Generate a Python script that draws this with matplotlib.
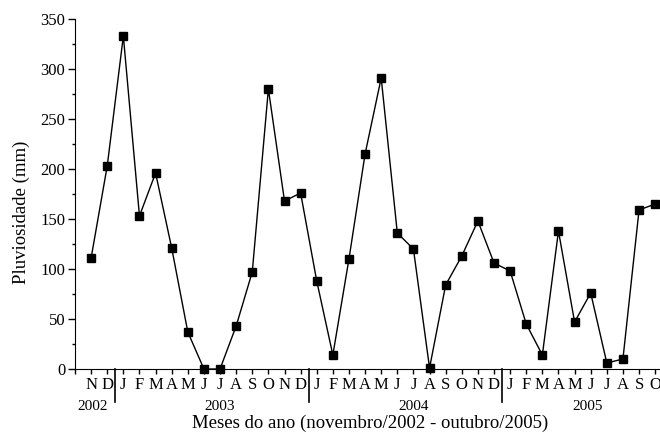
import numpy as np
import matplotlib
matplotlib.use("Agg")
import matplotlib.pyplot as plt
from matplotlib.ticker import MultipleLocator

plt.rcParams['font.family'] = ['Liberation Serif', 'DejaVu Serif']

# Pluviosidade mensal (mm), novembro/2002 a outubro/2005
meses = ['N', 'D',
         'J', 'F', 'M', 'A', 'M', 'J', 'J', 'A', 'S', 'O', 'N', 'D',
         'J', 'F', 'M', 'A', 'M', 'J', 'J', 'A', 'S', 'O', 'N', 'D',
         'J', 'F', 'M', 'A', 'M', 'J', 'J', 'A', 'S', 'O']
chuva = [111, 203,
         333, 153, 196, 121, 37, 0, 0, 43, 97, 280, 168, 176,
         88, 14, 110, 215, 291, 136, 120, 1, 84, 113, 148, 106,
         98, 45, 14, 138, 47, 76, 6, 10, 159, 165]
anos = ['2002', '2003', '2004', '2005']
anos_pos = [0.1, 8.0, 20.0, 30.8]
divisoes = [1.5, 13.5, 25.5]

x = np.arange(len(chuva))

fig = plt.figure(figsize=(6.6, 4.37), dpi=100)
ax = fig.add_axes([75/660, 1 - 369/437, 585/660, 350/437])

ax.plot(x, chuva, color='black', lw=1.0, marker='s', markersize=6.2,
        markerfacecolor='black', markeredgecolor='black', clip_on=False, zorder=3)

ax.set_xlim(-1, 35.3)
ax.set_ylim(0, 350)
ax.spines['top'].set_visible(False)
ax.spines['right'].set_visible(False)

ax.set_xticks(np.arange(-1, 36))
ax.set_xticklabels([''] + meses)
ax.yaxis.set_major_locator(MultipleLocator(50))
ax.yaxis.set_minor_locator(MultipleLocator(25))
ax.tick_params(axis='x', direction='out', length=3.5, width=1, pad=2.5, labelsize=12)
ax.tick_params(axis='y', which='major', direction='out', length=5, width=1, pad=2, labelsize=12)
ax.tick_params(axis='y', which='minor', direction='out', length=2.5, width=1)

trans = ax.get_xaxis_transform()
for d in divisoes:
    ax.plot([d, d], [0, -33/350], color='black', lw=1.2, transform=trans, clip_on=False)
for a, p in zip(anos, anos_pos):
    ax.text(p, -37/350, a, transform=trans, ha='center', va='center', fontsize=11)

ax.set_xlabel('Meses do ano (novembro/2002 - outubro/2005)', fontsize=13.5)
ax.set_ylabel('Pluviosidade (mm)', fontsize=13.5)
ax.xaxis.set_label_coords(0.505, -0.13)
ax.yaxis.set_label_coords(-0.077, 0.449)

fig.savefig('out.png', dpi=100)
